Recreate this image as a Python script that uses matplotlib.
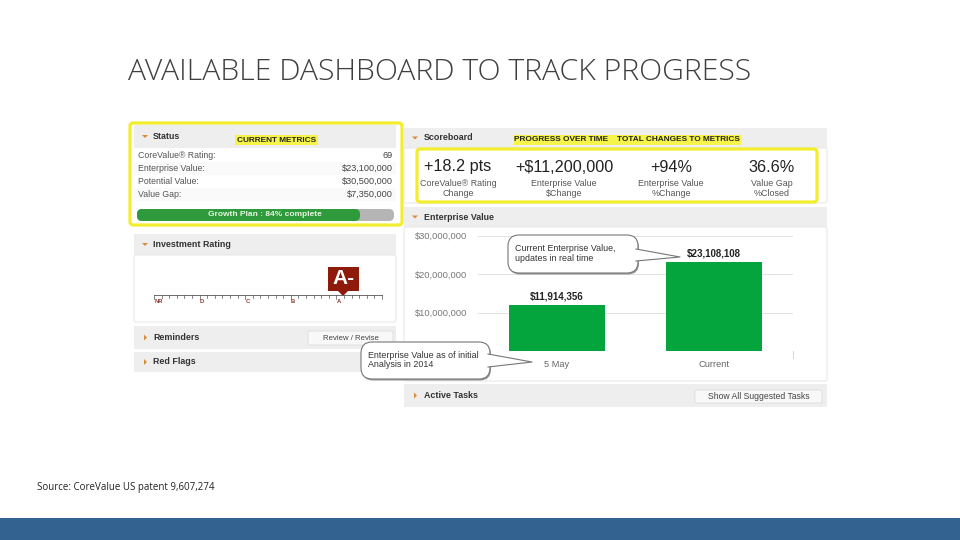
import matplotlib
matplotlib.use("Agg")
import matplotlib.pyplot as plt
from matplotlib.patches import FancyBboxPatch, Polygon, Rectangle

plt.rcParams['font.family'] = ['Liberation Sans', 'DejaVu Sans']

# Data
bar_labels = ["5 May", "Current"]
bar_values = [11914356, 23108108]
bar_texts = ["$11,914,356", "$23,108,108"]
y_ticks = [10000000, 20000000, 30000000]
y_tick_labels = ["$10,000,000", "$20,000,000", "$30,000,000"]

status_names = ["CoreValue® Rating:", "Enterprise Value:", "Potential Value:", "Value Gap:"]
status_values = ["69", "$23,100,000", "$30,500,000", "$7,350,000"]
growth_percent = 84

score_values = ["+18.2 pts", "+$11,200,000", "+94%", "36.6%"]
score_line1 = ["CoreValue® Rating", "Enterprise Value", "Enterprise Value", "Value Gap"]
score_line2 = ["Change", "$Change", "%Change", "%Closed"]
rating_letters = ["NR", "D", "C", "B", "A"]

W, H = 960, 540
fig = plt.figure(figsize=(W / 100, H / 100), dpi=100, facecolor="white")


def pixel_axes(z):
    a = fig.add_axes([0, 0, 1, 1], zorder=z)
    a.set_xlim(0, W)
    a.set_ylim(H, 0)
    a.axis("off")
    a.patch.set_alpha(0)
    return a


def box(a, x0, y0, x1, y1, **kw):
    a.add_patch(Rectangle((x0, y0), x1 - x0, y1 - y0, **kw))


def rbox(a, x0, y0, x1, y1, r=3, **kw):
    a.add_patch(FancyBboxPatch((x0 + r, y0 + r), x1 - x0 - 2 * r, y1 - y0 - 2 * r,
                               boxstyle=f"round,pad={r},rounding_size={r}", **kw))


def header(a, x0, y0, x1, y1, label, is_open=True, tx=None):
    box(a, x0, y0, x1, y1, fc="#eeeeee", ec="none")
    ym = (y0 + y1) / 2
    ax_ = x0 + 11
    if is_open:
        a.add_patch(Polygon([(ax_ - 3, ym - 1.5), (ax_ + 3, ym - 1.5), (ax_, ym + 1.5)], fc="#d98c3a", ec="none"))
    else:
        a.add_patch(Polygon([(ax_ - 1, ym - 3), (ax_ + 2, ym), (ax_ - 1, ym + 3)], fc="#d98c3a", ec="none"))
    a.text(tx if tx else x0 + 19, ym, label, fontsize=6.4, fontweight="bold", color="#333333", va="center")


def callout(a, x0, y0, x1, y1, tail, base_y0, base_y1, base_x, lines):
    # shadow first, then white body
    rbox(a, x0 + 1, y0 + 1.5, x1 + 1, y1 + 1.5, r=11, fc="#999999", ec="none")
    rbox(a, x0, y0, x1, y1, r=11, fc="white", ec="#777777", lw=0.8)
    a.add_patch(Polygon([(base_x, base_y0), tail, (base_x, base_y1)], fc="white", ec="none"))
    a.plot([base_x, tail[0], base_x], [base_y0, tail[1], base_y1], color="#777777", lw=0.8)
    a.text(x0 + 7, (y0 + y1) / 2 - 0.5, lines, fontsize=6.4, color="#333333", va="center", linespacing=1.1)


bg = pixel_axes(0)
fg = pixel_axes(2)

# slide furniture
bg.text(128, 72, "AVAILABLE DASHBOARD TO TRACK PROGRESS", fontsize=21.7, family="Open Sans",
        fontweight="light", color="#404040", va="center")
bg.text(37, 487.5, "Source: CoreValue US patent 9,607,274", fontsize=7.05, family="Open Sans",
        color="#222222", va="center")
box(bg, 0, 518, W, H, fc="#346290", ec="none")

# left column: status
header(bg, 134, 125, 396, 148, "Status", tx=153)
for i in range(4):
    y = 156 + i * 12.8
    if i % 2 == 1:
        box(bg, 134, y - 6.4, 396, y + 6.4, fc="#fafafa", ec="none")
    bg.text(138, y, status_names[i], fontsize=6.3, color="#555555", va="center")
    bg.text(393, y, status_values[i], fontsize=6.6, color="#444444", va="center", ha="right")
rbox(bg, 137, 209, 394, 221, r=5, fc="#b5b5b5", ec="none")
rbox(bg, 137, 209, 360, 221, r=5, fc="#2f9a3c", ec="none")
bg.text(265, 215, f"Growth Plan : {growth_percent}% complete", fontsize=6.0, color="#e8f5e0",
        va="center", ha="center", fontweight="bold")
rbox(bg, 130, 123, 402, 225, r=3, fc="none", ec="#f2ee2e", lw=2.3)
box(bg, 235, 135, 318, 145, fc="#f6f44a", ec="none")
bg.text(276.5, 140, "CURRENT METRICS", fontsize=5.95, fontweight="bold", color="#222222", va="center", ha="center")

# left column: rating
header(bg, 134, 234, 396, 255, "Investment Rating", tx=153)
rbox(bg, 134, 255, 396, 322, r=2, fc="white", ec="#e6e6e6", lw=0.7)
box(bg, 328, 267, 359, 291, fc="#8e1a0c", ec="none")
bg.add_patch(Polygon([(338, 291), (348, 291), (343, 296)], fc="#8e1a0c", ec="none"))
bg.text(343.5, 279, "A-", fontsize=15, fontweight="bold", color="white", va="center", ha="center")
bg.plot([154, 382], [295, 295], color="#555555", lw=0.6)
for i in range(31):
    tx_ = 154 + i * 228 / 30
    bg.plot([tx_, tx_], [295, 299 if i % 6 == 0 else 297.5], color="#555555", lw=0.5)
for lab, lx in zip(rating_letters, [159, 202, 248, 293, 339]):
    bg.text(lx, 301.5, lab, fontsize=4.2, fontweight="bold", color="#8e3a30", va="center", ha="center")

header(bg, 134, 326, 396, 349, "Reminders", is_open=False, tx=153)
rbox(bg, 308, 331, 393, 345, r=1.5, fc="#f8f8f8", ec="#dddddd", lw=0.6)
bg.text(350.5, 338, "Review / Revise", fontsize=5.6, color="#444444", va="center", ha="center")
header(bg, 134, 352, 396, 372, "Red Flags", is_open=False, tx=153)

# right column
header(bg, 404, 128, 827, 148, "Scoreboard", tx=424)
box(bg, 514, 134.5, 741, 144.5, fc="#f6f44a", ec="none")
bg.text(561.5, 139.5, "PROGRESS OVER TIME", fontsize=5.95, fontweight="bold", color="#222222", va="center", ha="center")
bg.text(678, 139.5, "TOTAL CHANGES TO METRICS", fontsize=5.95, fontweight="bold", color="#222222", va="center", ha="center")
rbox(bg, 404, 148, 827, 203, r=2, fc="white", ec="#e6e6e6", lw=0.7)
for i, cx in enumerate([458, 564, 671, 772]):
    bg.text(cx, 167, score_values[i], fontsize=11.7, color="#222222", va="center", ha="center")
    bg.text(cx, 183, score_line1[i], fontsize=6.4, color="#555555", va="center", ha="center")
    bg.text(cx, 194, score_line2[i], fontsize=6.4, color="#555555", va="center", ha="center")
rbox(bg, 417, 149, 817, 202, r=3, fc="none", ec="#f2ee2e", lw=2.3)

header(bg, 404, 207, 827, 227, "Enterprise Value", tx=424)
rbox(bg, 404, 227, 827, 381, r=2, fc="white", ec="#e6e6e6", lw=0.7)
header(bg, 404, 384, 827, 407, "Active Tasks", is_open=False, tx=424)
rbox(bg, 695, 390, 822, 403, r=1.5, fc="#f8f8f8", ec="#dddddd", lw=0.6)
bg.text(758.5, 396.5, "Show All Suggested Tasks", fontsize=6.25, color="#444444", va="center", ha="center")
bg.plot([793, 793], [351, 358], color="#d5d5d5", lw=0.7)

# bar chart
ax = fig.add_axes([478 / W, (H - 351) / H, 315 / W, 115.5 / H], zorder=1)
ax.patch.set_alpha(0)
ax.bar(range(len(bar_values)), bar_values, width=0.61, color="#05a53e", zorder=3)
ax.set_xlim(-0.5, 1.5)
ax.set_ylim(0, 30000000)
ax.set_yticks(y_ticks)
ax.set_yticklabels(y_tick_labels, fontsize=6.7, color="#777777")
ax.set_xticks(range(len(bar_labels)))
ax.set_xticklabels(bar_labels, fontsize=6.7, color="#666666")
ax.tick_params(length=0, axis="y", pad=8)
ax.tick_params(length=0, axis="x", pad=6.5)
ax.grid(axis="y", color="#e2e2e2", lw=0.7, zorder=0)
for s in ax.spines.values():
    s.set_visible(False)
for i, v in enumerate(bar_values):
    ax.annotate(bar_texts[i], (i, v), xytext=(0, 6.3), textcoords="offset points", ha="center",
                va="center", fontsize=7, fontweight="bold", color="#222222")

# callouts sit on top of everything
callout(fg, 508, 235, 638, 273, (680, 257), 249, 261, 636,
        "Current Enterprise Value,\nupdates in real time")
callout(fg, 361, 342, 490, 379, (532, 362), 354, 367, 488,
        "Enterprise Value as of initial\nAnalysis in 2014")

fig.savefig("out.png", dpi=100)
